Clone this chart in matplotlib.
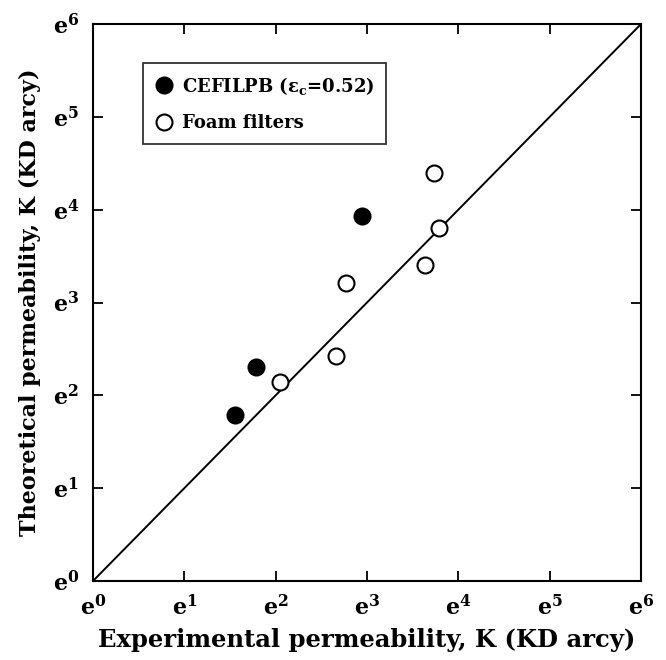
import numpy as np
import matplotlib
matplotlib.use("Agg")
import matplotlib.pyplot as plt

plt.rcParams["font.family"] = "DejaVu Serif"
plt.rcParams["font.weight"] = "bold"
plt.rcParams["mathtext.fontset"] = "dejavuserif"
plt.rcParams["mathtext.default"] = "bf"

# ln(K) values
cefilpb_x = [1.56, 1.78, 2.94]
cefilpb_y = [1.79, 2.31, 3.93]
foam_x = [2.05, 2.66, 2.77, 3.64, 3.73, 3.79]
foam_y = [2.14, 2.42, 3.21, 3.40, 4.40, 3.80]
powers = [0, 1, 2, 3, 4, 5, 6]

fig = plt.figure(figsize=(6.66, 6.60), dpi=100)
ax = fig.add_axes([0.1396, 0.1197, 0.8229, 0.8439])

ax.plot([0, 6], [0, 6], color="k", lw=1.4)
ax.plot(cefilpb_x, cefilpb_y, "o", ms=11.5, mfc="k", mec="k", mew=1.5,
        label=r"CEFILPB ($\varepsilon_c$=0.52)")
ax.plot(foam_x, foam_y, "o", ms=11.5, mfc="white", mec="k", mew=1.5,
        label="Foam filters")

ax.set_xlim(0, 6)
ax.set_ylim(0, 6)
ticklabels = [r"$e^{%d}$" % p for p in powers]
ax.set_xticks(powers)
ax.set_yticks(powers)
ax.set_xticklabels(ticklabels, fontsize=16)
ax.set_yticklabels(ticklabels, fontsize=16)
ax.tick_params(direction="in", length=7, width=1.3, top=True, right=True, pad=10)
for s in ax.spines.values():
    s.set_linewidth(1.5)

ax.set_xlabel("Experimental permeability, K (KD arcy)", fontsize=17.5,
              fontweight="bold", labelpad=6)
ax.set_ylabel("Theoretical permeability, K (KD arcy)", fontsize=16,
              fontweight="bold", labelpad=8)

leg = ax.legend(loc="upper left", bbox_to_anchor=(0.091, 0.93), borderaxespad=0,
                fontsize=13, frameon=True, fancybox=False, edgecolor="k",
                handletextpad=0.5, handlelength=1.0, borderpad=0.65,
                labelspacing=0.95, markerscale=1.0)
leg.get_frame().set_linewidth(1.3)

fig.savefig("out.png", dpi=100)
